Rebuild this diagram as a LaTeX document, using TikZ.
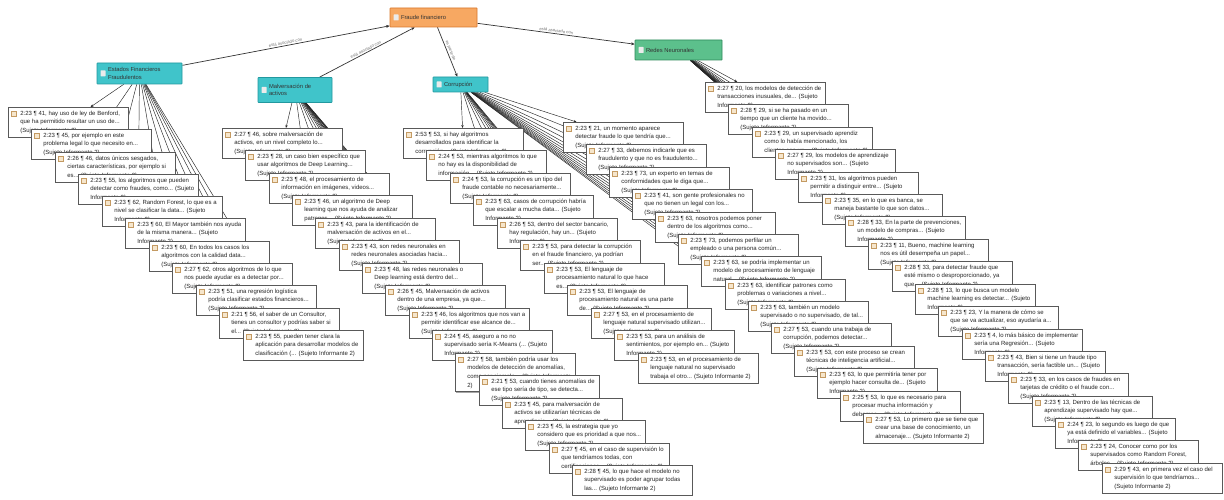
\documentclass[tikz,border=0pt]{standalone}
\usepackage{fontspec}
\setmainfont{Liberation Sans}
\newfontfamily\qfam{Liberation Sans}
\usetikzlibrary{arrows.meta,backgrounds,shadows}
\definecolor{rootfill}{HTML}{F7A862}
\definecolor{rootdraw}{HTML}{D9772A}
\definecolor{tealfill}{HTML}{40C4CA}
\definecolor{tealdraw}{HTML}{23989F}
\definecolor{greenfill}{HTML}{5CC08C}
\definecolor{greendraw}{HTML}{2E8A5A}
\definecolor{iconfill}{HTML}{F6E6CC}
\definecolor{icondraw}{HTML}{C49A62}
\newcommand\qtxt[1]{\hspace*{8pt}\parbox[t]{104pt}{\raggedright\hyphenpenalty=10000\exhyphenpenalty=10000\relax #1}}
\newcommand\htxt[2]{\hspace*{8pt}\parbox{#1}{\raggedright #2}}
\tikzset{
  quote/.style={draw=black!65, line width=0.65pt, fill=white, anchor=north west,
    inner xsep=4pt, inner ysep=3.5pt,
    font=\qfam\fontsize{6}{8.6}\selectfont, text=black!85,
    drop shadow={shadow xshift=0.9pt, shadow yshift=-0.9pt, fill=black!35, opacity=1},
    path picture={\draw[icondraw, fill=iconfill, line width=0.3pt]
      ([xshift=3pt,yshift=-3.5pt]path picture bounding box.north west) rectangle ++(4.5pt,-5pt);}},
  hdr/.style={line width=0.7pt, inner xsep=3pt, inner ysep=2pt,
    font=\qfam\fontsize{5.8}{7.2}\selectfont, text=black!80, rounded corners=0.5pt,
    path picture={\fill[white!92!black]
      ([xshift=3.5pt,yshift=3pt]path picture bounding box.west) rectangle ++(5pt,-6pt);}},
  link/.style={draw=black!85, line width=0.45pt, -{Stealth[length=3pt,width=2.4pt]}},
  rlink/.style={draw=black!80, line width=0.7pt, -{Stealth[length=3.5pt,width=3pt]}},
  lab/.style={font=\qfam\fontsize{4.2}{5}\selectfont, text=black!55, sloped, above, inner sep=1pt}
}
\begin{document}
\begin{tikzpicture}[x=1pt,y=-1pt]
\useasboundingbox (0,0) rectangle (1224,500);

% headers
\node[hdr, fill=rootfill, draw=rootdraw, minimum width=87pt, minimum height=19pt] (root) at (433.5,17.5) {\htxt{73pt}{Fraude financiero}};
\node[hdr, fill=tealfill, draw=tealdraw, minimum width=85pt, minimum height=21pt] (h1) at (139.5,73.5) {\htxt{71pt}{Estados Financieros\\Fraudulentos}};
\node[hdr, fill=tealfill, draw=tealdraw, minimum width=74pt, minimum height=25pt] (h2) at (295,90) {\htxt{60pt}{Malversación de\\activos}};
\node[hdr, fill=tealfill, draw=tealdraw, minimum width=55pt, minimum height=15pt] (h3) at (460.5,84.5) {\htxt{41pt}{Corrupción}};
\node[hdr, fill=greenfill, draw=greendraw, minimum width=87pt, minimum height=20pt] (h4) at (678.5,50) {\htxt{73pt}{Redes Neuronales}};

% column 1
\node[quote] (a1) at (8,107) {\qtxt{2:23 ¶ 41, hay uso de ley de Benford, que ha permitido resultar un uso de... (Sujeto Informante 2)}};
\node[quote] (a2) at (31,129) {\qtxt{2:23 ¶ 45, por ejemplo en este problema legal lo que necesito en... (Sujeto Informante 2)}};
\node[quote] (a3) at (55,152) {\qtxt{2:26 ¶ 46, datos únicos sesgados, ciertas características, por ejemplo si es... (Sujeto Informante 2)}};
\node[quote] (a4) at (78,174) {\qtxt{2:23 ¶ 55, los algoritmos que pueden detectar como fraudes, como... (Sujeto Informante 2)}};
\node[quote] (a5) at (102,196) {\qtxt{2:23 ¶ 62, Random Forest, lo que es a nivel se clasificar la data... (Sujeto Informante 2)}};
\node[quote] (a6) at (125,218) {\qtxt{2:23 ¶ 60, El Mayor también nos ayuda de la misma manera... (Sujeto Informante 2)}};
\node[quote] (a7) at (149,241) {\qtxt{2:23 ¶ 60, En todos los casos los algoritmos con la calidad data... (Sujeto Informante 2)}};
\node[quote] (a8) at (172,263) {\qtxt{2:27 ¶ 62, otros algoritmos de lo que nos puede ayudar es a detectar por... (Sujeto Informante 2)}};
\node[quote] (a9) at (196,285) {\qtxt{2:23 ¶ 51, una regresión logística podría clasificar estados financieros... (Sujeto Informante 2)}};
\node[quote] (a10) at (219,308) {\qtxt{2:21 ¶ 56, el saber de un Consultor, tienes un consultor y podrías saber si el... (Sujeto Informante 2)}};
\node[quote] (a11) at (243,330) {\qtxt{2:23 ¶ 55, pueden tener clara la aplicación para desarrollar modelos de clasificación (... (Sujeto Informante 2)}};

% column 2
\node[quote] (b1) at (222,128) {\qtxt{2:27 ¶ 46, sobre malversación de activos, en un nivel completo lo... (Sujeto Informante 2)}};
\node[quote] (b2) at (245,150) {\qtxt{2:23 ¶ 28, un caso bien específico que usar algoritmos de Deep Learning... (Sujeto Informante 2)}};
\node[quote] (b3) at (269,173) {\qtxt{2:23 ¶ 48, el procesamiento de información en imágenes, videos... (Sujeto Informante 2)}};
\node[quote] (b4) at (292,195) {\qtxt{2:23 ¶ 46, un algoritmo de Deep learning que nos ayuda de analizar patrones... (Sujeto Informante 2)}};
\node[quote] (b5) at (315,218) {\qtxt{2:23 ¶ 43, para la identificación de malversación de activos en el... (Sujeto Informante 2)}};
\node[quote] (b6) at (339,240) {\qtxt{2:23 ¶ 43, son redes neuronales en redes neuronales asociadas hacia... (Sujeto Informante 2)}};
\node[quote] (b7) at (362,263) {\qtxt{2:23 ¶ 48, las redes neuronales o Deep learning está dentro del... (Sujeto Informante 2)}};
\node[quote] (b8) at (385,285) {\qtxt{2:26 ¶ 45, Malversación de activos dentro de una empresa, ya que... (Sujeto Informante 2)}};
\node[quote] (b9) at (409,308) {\qtxt{2:23 ¶ 46, los algoritmos que nos van a permitir identificar ese alcance de... (Sujeto Informante 2)}};
\node[quote] (b10) at (432,330) {\qtxt{2:24 ¶ 45, aseguro a no no supervisado sería K-Means (... (Sujeto Informante 2)}};
\node[quote] (b11) at (455,353) {\qtxt{2:27 ¶ 58, también podría usar los modelos de detección de anomalías, como por ejemplo... (Sujeto Informante 2)}};
\node[quote] (b12) at (479,375) {\qtxt{2:21 ¶ 53, cuando tienes anomalías de ese tipo sería de tipo, se detecta... (Sujeto Informante 2)}};
\node[quote] (b13) at (502,398) {\qtxt{2:23 ¶ 45, para malversación de activos se utilizarían técnicas de aprendizaje... (Sujeto Informante 2)}};
\node[quote] (b14) at (525,420) {\qtxt{2:23 ¶ 45, la estrategia que yo considero que es prioridad a que nos... (Sujeto Informante 2)}};
\node[quote] (b15) at (549,443) {\qtxt{2:27 ¶ 45, en el caso de supervisión lo que tendríamos todas, con certificaciones... (Sujeto Informante 2)}};
\node[quote] (b16) at (572,465) {\qtxt{2:28 ¶ 45, lo que hace el modelo no supervisado es poder agrupar todas las... (Sujeto Informante 2)}};

% column 3a
\node[quote] (c1) at (403,128) {\qtxt{2:53 ¶ 53, si hay algoritmos desarrollados para identificar la corrupción... (Sujeto Informante 2)}};
\node[quote] (c2) at (426,150) {\qtxt{2:24 ¶ 53, mientras algoritmos lo que no hay es la disponibilidad de información... (Sujeto Informante 2)}};
\node[quote] (c3) at (450,173) {\qtxt{2:24 ¶ 53, la corrupción es un tipo del fraude contable no necesariamente... (Sujeto Informante 2)}};
\node[quote] (c4) at (473,195) {\qtxt{2:23 ¶ 63, casos de corrupción habría que escalar a mucha data... (Sujeto Informante 2)}};
\node[quote] (c5) at (497,218) {\qtxt{2:26 ¶ 53, dentro del sector bancario, hay regulación, hay un... (Sujeto Informante 2)}};
\node[quote] (c6) at (520,240) {\qtxt{2:23 ¶ 53, para detectar la corrupción en el fraude financiero, ya podrían ser... (Sujeto Informante 2)}};
\node[quote] (c7) at (544,263) {\qtxt{2:23 ¶ 53, El lenguaje de procesamiento natural lo que hace es... (Sujeto Informante 2)}};
\node[quote] (c8) at (567,285) {\qtxt{2:23 ¶ 53, El lenguaje de procesamiento natural es una parte de... (Sujeto Informante 2)}};
\node[quote] (c9) at (591,308) {\qtxt{2:27 ¶ 53, en el procesamiento de lenguaje natural supervisado utilizan... (Sujeto Informante 2)}};
\node[quote] (c10) at (614,330) {\qtxt{2:23 ¶ 53, para un análisis de sentimientos, por ejemplo en... (Sujeto Informante 2)}};
\node[quote] (c11) at (638,353) {\qtxt{2:23 ¶ 53, en el procesamiento de lenguaje natural no supervisado trabaja el otro... (Sujeto Informante 2)}};

% column 3b
\node[quote] (d1) at (563,122) {\qtxt{2:23 ¶ 21, un momento aparece detectar fraude lo que tendría que... (Sujeto Informante 2)}};
\node[quote] (d2) at (586,144) {\qtxt{2:27 ¶ 33, debemos indicarle que es fraudulento y que no es fraudulento... (Sujeto Informante 2)}};
\node[quote] (d3) at (609,167) {\qtxt{2:23 ¶ 73, un experto en temas de conformidades que le diga que... (Sujeto Informante 2)}};
\node[quote] (d4) at (632,189) {\qtxt{2:23 ¶ 41, son gente profesionales no que no tienen un legal con los... (Sujeto Informante 2)}};
\node[quote] (d5) at (655,212) {\qtxt{2:23 ¶ 63, nosotros podemos poner dentro de los algoritmos como... (Sujeto Informante 2)}};
\node[quote] (d6) at (678,234) {\qtxt{2:23 ¶ 73, podemos perfilar un empleado o una persona común... (Sujeto Informante 2)}};
\node[quote] (d7) at (701,256) {\qtxt{2:23 ¶ 63, se podría implementar un modelo de procesamiento de lenguaje natural... (Sujeto Informante 2)}};
\node[quote] (d8) at (725,279) {\qtxt{2:23 ¶ 63, identificar patrones como problemas o variaciones a nivel... (Sujeto Informante 2)}};
\node[quote] (d9) at (748,301) {\qtxt{2:23 ¶ 63, también un modelo supervisado o no supervisado, de tal... (Sujeto Informante 2)}};
\node[quote] (d10) at (771,323) {\qtxt{2:27 ¶ 53, cuando una trabaja de corrupción, podemos detectar... (Sujeto Informante 2)}};
\node[quote] (d11) at (794,346) {\qtxt{2:23 ¶ 53, con este proceso se crean técnicas de inteligencia artificial... (Sujeto Informante 2)}};
\node[quote] (d12) at (817,368) {\qtxt{2:23 ¶ 63, lo que permitiría tener por ejemplo hacer consulta de... (Sujeto Informante 2)}};
\node[quote] (d13) at (840,391) {\qtxt{2:25 ¶ 53, lo que es necesario para procesar mucha información y debemos... (Sujeto Informante 2)}};
\node[quote] (d14) at (863,413) {\qtxt{2:27 ¶ 53, Lo primero que se tiene que crear una base de conocimiento, un almacenaje... (Sujeto Informante 2)}};

% column 4
\node[quote] (e1) at (705,82) {\qtxt{2:27 ¶ 20, los modelos de detección de transacciones inusuales, de... (Sujeto Informante 2)}};
\node[quote] (e2) at (728,104) {\qtxt{2:28 ¶ 29, si se ha pasado en un tiempo que un cliente ha movido... (Sujeto Informante 2)}};
\node[quote] (e3) at (752,127) {\qtxt{2:23 ¶ 29, un supervisado aprendiz como lo había mencionado, los clientes son un... (Sujeto Informante 2)}};
\node[quote] (e4) at (775,149) {\qtxt{2:27 ¶ 29, los modelos de aprendizaje no supervisados son... (Sujeto Informante 2)}};
\node[quote] (e5) at (798,172) {\qtxt{2:23 ¶ 31, los algoritmos pueden permitir a distinguir entre... (Sujeto Informante 2)}};
\node[quote] (e6) at (822,194) {\qtxt{2:23 ¶ 35, en lo que es banca, se maneja bastante lo que son datos... (Sujeto Informante 2)}};
\node[quote] (e7) at (845,216) {\qtxt{2:28 ¶ 33, En la parte de prevenciones, un modelo de compras... (Sujeto Informante 2)}};
\node[quote] (e8) at (868,239) {\qtxt{2:23 ¶ 11, Bueno, machine learning nos es útil desempeña un papel... (Sujeto Informante 2)}};
\node[quote] (e9) at (892,261) {\qtxt{2:28 ¶ 33, para detectar fraude que esté mismo o desproporcionado, ya que... (Sujeto Informante 2)}};
\node[quote] (e10) at (915,284) {\qtxt{2:28 ¶ 13, lo que busca un modelo machine learning es detectar... (Sujeto Informante 2)}};
\node[quote] (e11) at (938,306) {\qtxt{2:23 ¶ 23, Y la manera de cómo se que se va actualizar, eso ayudaría a... (Sujeto Informante 2)}};
\node[quote] (e12) at (962,329) {\qtxt{2:23 ¶ 4, lo más básico de implementar sería una Regresión... (Sujeto Informante 2)}};
\node[quote] (e13) at (985,351) {\qtxt{2:23 ¶ 43, Bien si tiene un fraude tipo transacción, sería factible un... (Sujeto Informante 2)}};
\node[quote] (e14) at (1008,373) {\qtxt{2:23 ¶ 33, en los casos de fraudes en tarjetas de crédito o el fraude con... (Sujeto Informante 2)}};
\node[quote] (e15) at (1032,396) {\qtxt{2:23 ¶ 13, Dentro de las técnicas de aprendizaje supervisado hay que... (Sujeto Informante 2)}};
\node[quote] (e16) at (1055,418) {\qtxt{2:24 ¶ 23, lo segundo es luego de que ya está definido el variables... (Sujeto Informante 2)}};
\node[quote] (e17) at (1078,440) {\qtxt{2:23 ¶ 24, Conocer como por los supervisados como Random Forest, árboles... (Sujeto Informante 2)}};
\node[quote] (e18) at (1102,463) {\qtxt{2:29 ¶ 43, en primera vez el caso del supervisión lo que tendríamos... (Sujeto Informante 2)}};

\begin{scope}[on background layer]
  \fill[white] (0,0) rectangle (1224,500);
  \draw[rlink] (h1) -- node[lab]{está asociado con} (root);
  \draw[rlink] (h2) -- node[lab]{está asociado con} (root);
  \draw[rlink] (root) -- node[lab]{es parte de} (h3);
  \draw[rlink] (root) -- node[lab]{está asociado con} (h4);
  \foreach \i in {1,...,11} \draw[link] (h1) -- (a\i);
  \foreach \i in {1,...,16} \draw[link] (h2) -- (b\i);
  \foreach \i in {1,...,11} \draw[link] (h3) -- (c\i);
  \foreach \i in {1,...,14} \draw[link] (h3) -- (d\i);
  \foreach \i in {1,...,18} \draw[link] (h4) -- (e\i);
\end{scope}
\end{tikzpicture}
\end{document}
